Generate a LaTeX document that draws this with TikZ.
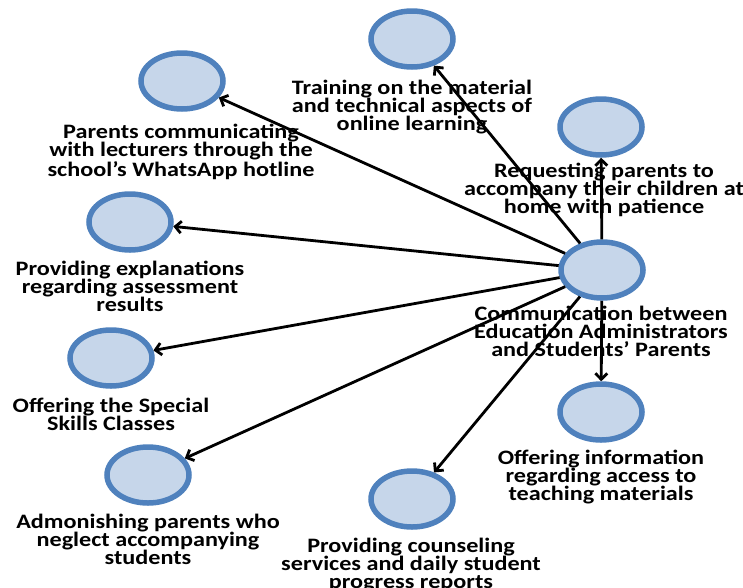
\documentclass[tikz,border=0pt]{standalone}
\usepackage{fontspec}
\setmainfont{Carlito}[FakeStretch=1.18]
\usetikzlibrary{arrows.meta,shapes.geometric}

\definecolor{bubblefill}{RGB}{198,214,234}
\definecolor{bubbleedge}{RGB}{79,129,189}

\begin{document}
\begin{tikzpicture}[x=1pt,y=-1pt,
  bubble/.style={ellipse, draw=bubbleedge, line width=5.5pt, fill=bubblefill,
    minimum width=82pt, minimum height=56pt, inner sep=0pt},
  caption/.style={align=center, anchor=north, inner sep=0pt,
    font=\bfseries\fontsize{20.5}{18}\selectfont},
  link/.style={line width=2.8pt, -{Straight Barb[length=6pt,width=12pt]}}]

\useasboundingbox (0,0) rectangle (743,587);

% hub and the nine activities around it
\node[bubble] (hub)   at (602,270) {};
\node[bubble] (train) at (412,39)  {};
\node[bubble] (wa)    at (182,81)  {};
\node[bubble] (home)  at (601,127) {};
\node[bubble] (expl)  at (130,222) {};
\node[bubble] (skill) at (111,358) {};
\node[bubble] (info)  at (601,412) {};
\node[bubble] (warn)  at (148,475) {};
\node[bubble] (couns) at (412,499) {};

% connectors from the hub
\foreach \t in {train,wa,home,expl,skill,info,warn,couns}
  \draw[link] (hub) -- (\t);

% captions
\node[caption] (ctrain) at (412,80)  {Training on the material\\and technical aspects of\\online learning};
\node[caption] (cwa)    at (181,124) {Parents communicating\\with lecturers through the\\school’s WhatsApp hotline};
\node[caption] (chome)  at (604,163) {Requesting parents to\\accompany their children at\\home with patience};
\node[caption] (cexpl)  at (130,261) {Providing explanations\\regarding assessment\\results};
\node[caption] (chub)   at (601,306) {Communication between\\Education Administrators\\and Students’ Parents};
\node[caption] (cskill) at (111,398) {Offering the Special\\Skills Classes};
\node[caption] (cinfo)  at (601,450) {Offering information\\regarding access to\\teaching materials};
\node[caption] (cwarn)  at (148,514) {Admonishing parents who\\neglect accompanying\\students};
\node[caption] (ccouns) at (411,538) {Providing counseling\\services and daily student\\progress reports};
\end{tikzpicture}
\end{document}
